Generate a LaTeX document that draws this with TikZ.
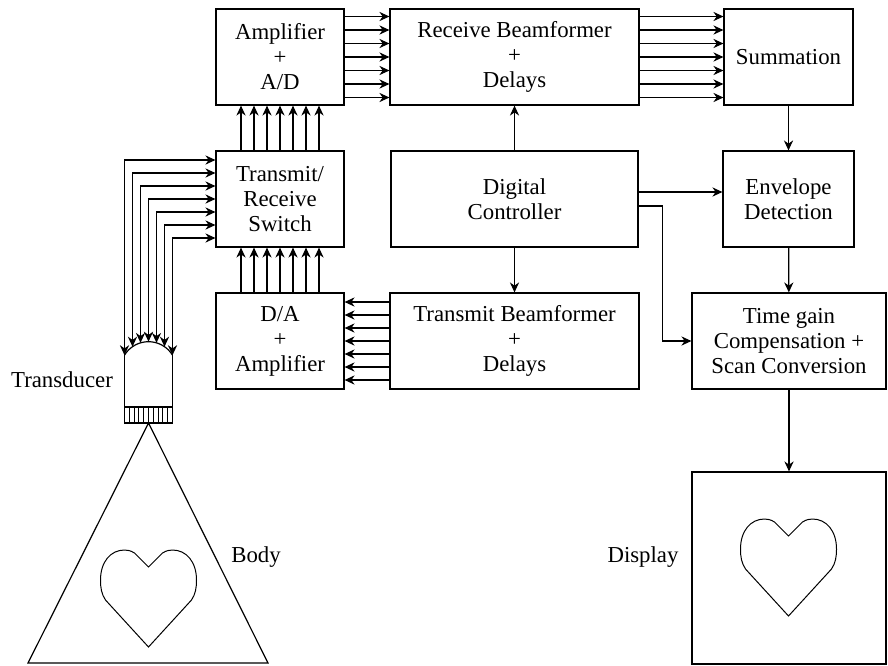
\documentclass[tikz,border=0pt]{standalone}
\usepackage{fontspec}
\setmainfont{Liberation Serif}
\usetikzlibrary{arrows.meta}

\tikzset{
  txt/.style={font=\fontsize{11.4}{12.5}\selectfont, align=center, inner sep=1pt},
  block/.style={txt, draw, line width=0.6pt},
  narrow/.style={block, minimum width=64pt, minimum height=48pt},
  wide/.style={block, minimum width=124.5pt, minimum height=48pt},
  arr/.style={-{Stealth[length=5pt,width=4.6pt]}, line width=0.6pt},
  dblarr/.style={{Stealth[length=5pt,width=4.6pt]}-{Stealth[length=5pt,width=4.6pt]}, line width=0.6pt},
  heartpic/.pic={
    \draw[line width=0.5pt] (0,17) -- (-14,3) .. controls (-18,0.5) and (-21,0) .. (-24,0)
      .. controls (-38,0) and (-48,12) .. (-48,30) .. controls (-48,38) and (-47,44) .. (-43,50)
      -- (0,97) -- (43,50) .. controls (47,44) and (48,38) .. (48,30)
      .. controls (48,12) and (38,0) .. (24,0) .. controls (21,0) and (18,0.5) .. (14,3) -- cycle;
  }
}

\begin{document}
\begin{tikzpicture}[x=0.5pt,y=-0.5pt]
	\useasboundingbox (0,0) rectangle (888,665);

	% blocks
	\node[narrow] (amp) at (280,57) {Amplifier\\+\\A/D};
	\node[wide] (rxbf) at (514.5,57) {Receive Beamformer\\+\\Delays};
	\node[narrow, minimum width=64.5pt] (summ) at (788.5,57) {Summation};
	\node[narrow] (trsw) at (280,199) {Transmit/\\Receive\\Switch};
	\node[wide, minimum width=123.5pt] (ctrl) at (514.5,199) {Digital\\Controller};
	\node[narrow, minimum width=65.5pt] (env) at (788.5,199) {Envelope\\Detection};
	\node[narrow] (da) at (280,341) {D/A\\+\\Amplifier};
	\node[wide] (txbf) at (514.5,341) {Transmit Beamformer\\+\\Delays};
	\node[block, minimum width=97pt, minimum height=48pt] (tgc) at (789,341) {Time gain\\Compensation +\\Scan Conversion};
	\node[block, minimum width=97pt, minimum height=96pt] (disp) at (789,568) {};

	% labels
	\node[txt] (xdcrlbl) at (62,380) {Transducer};
	\node[txt] (bodylbl) at (256,557) {Body};
	\node[txt] (displbl) at (643,557) {Display};

	% channel buses
	\foreach \k in {-3,...,3} {
		\draw[arr] ([yshift=\k*6.75pt]amp.east) -- ([yshift=\k*6.75pt]rxbf.west);
		\draw[arr] ([yshift=\k*6.75pt]rxbf.east) -- ([yshift=\k*6.75pt]summ.west);
		\draw[arr] ([xshift=\k*6.5pt]trsw.north) -- ([xshift=\k*6.5pt]amp.south);
		\draw[arr] ([xshift=\k*6.5pt]da.north) -- ([xshift=\k*6.5pt]trsw.south);
		\draw[arr] ([yshift=\k*6.5pt]txbf.west) -- ([yshift=\k*6.5pt]da.east);
	}

	% control and signal path
	\draw[arr] (ctrl) -- (rxbf);
	\draw[arr] (ctrl) -- (txbf);
	\draw[arr] ([yshift=3.5pt]ctrl.east) -- ([yshift=3.5pt]env.west);
	\draw[arr] ([yshift=-3.5pt]ctrl.east) -- ++(24,0) |- (tgc.west);
	\draw[arr] (summ) -- (env);
	\draw[arr] (env) -- (tgc);
	\draw[arr] (tgc) -- (disp);

	% transducer head
	\draw[line width=0.6pt] (124.5,355.2) -- (124.5,407) -- (172.5,407) -- (172.5,355.2);
	\draw[line width=0.6pt] plot[domain=211.4:328.6, samples=40] ({148.5+28.1*cos(\x)},{369.8+28.1*sin(\x)});
	\draw[line width=0.6pt] (124.5,407) rectangle (172.5,423);
	\foreach \k in {1,...,10}
		\draw[line width=0.5pt] ({124.5+\k*4.8},407) -- ++(0,16);
	\foreach \i in {0,...,6} {
		\coordinate (tip\i) at ({124.5+8*\i},{369.8-sqrt(789.6-(8*\i-24)^2)});
		\pgfmathsetmacro\dy{(3-\i)*6.5}
		\draw[dblarr] (tip\i) |- ([yshift=\dy pt]trsw.west);
	}

	% body and hearts
	\coordinate (apex) at (148.5,423);
	\draw[line width=0.6pt] (apex) -- (28,663) -- (268,663) -- cycle;
	\pic at (148.5,550) {heartpic};
	\pic at (788.5,519) {heartpic};
\end{tikzpicture}
\end{document}
